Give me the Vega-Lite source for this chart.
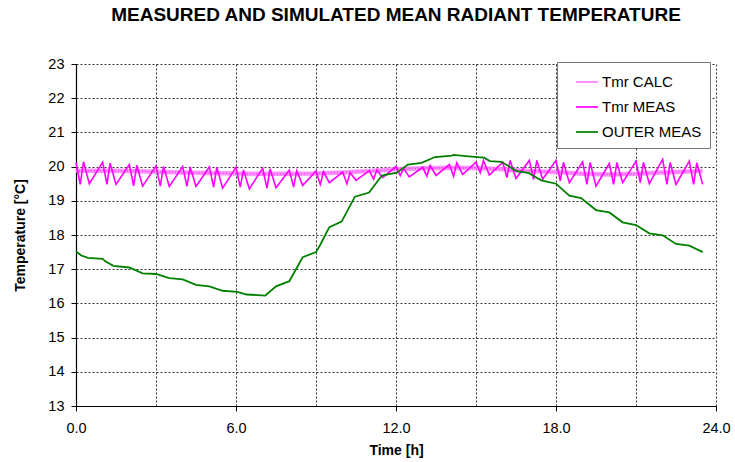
{
  "$schema": "https://vega.github.io/schema/vega-lite/v6.json",
  "autosize": "none",
  "width": 640,
  "height": 342,
  "padding": {"left": 76, "top": 64, "right": 19, "bottom": 56},
  "background": "white",
  "config": {"view": {"stroke": null}, "font": "Liberation Sans"},
  "title": {"text": "MEASURED AND SIMULATED MEAN RADIANT TEMPERATURE", "fontSize": 19, "fontWeight": "bold", "font": "Liberation Sans", "anchor": "middle", "offset": 31, "color": "black"},
  "datasets": {
    "calc": [
      {"time": 0, "temp": 19.88}, {"time": 1, "temp": 19.88}, {"time": 2, "temp": 19.87}, {"time": 3, "temp": 19.85},
      {"time": 4, "temp": 19.83}, {"time": 5, "temp": 19.81}, {"time": 6, "temp": 19.8}, {"time": 7, "temp": 19.79},
      {"time": 8, "temp": 19.79}, {"time": 9, "temp": 19.8}, {"time": 10, "temp": 19.83}, {"time": 11, "temp": 19.87},
      {"time": 12, "temp": 19.92}, {"time": 13, "temp": 19.95}, {"time": 14, "temp": 19.97}, {"time": 15, "temp": 19.96},
      {"time": 16, "temp": 19.92}, {"time": 17, "temp": 19.87}, {"time": 18, "temp": 19.84}, {"time": 19, "temp": 19.79},
      {"time": 20, "temp": 19.77}, {"time": 21, "temp": 19.79}, {"time": 22, "temp": 19.83}, {"time": 23, "temp": 19.86},
      {"time": 23.5, "temp": 19.87}
    ],
    "meas": [
      {"time": 0, "temp": 20.12}, {"time": 0.16, "temp": 19.48}, {"time": 0.28, "temp": 20.14}, {"time": 0.5, "temp": 19.5},
      {"time": 1, "temp": 20.13}, {"time": 1.16, "temp": 19.48}, {"time": 1.28, "temp": 20.1}, {"time": 1.5, "temp": 19.48},
      {"time": 2, "temp": 20.06}, {"time": 2.16, "temp": 19.44}, {"time": 2.28, "temp": 20.04}, {"time": 2.5, "temp": 19.43},
      {"time": 3, "temp": 20.02}, {"time": 3.16, "temp": 19.43}, {"time": 3.28, "temp": 20.0}, {"time": 3.5, "temp": 19.42},
      {"time": 4, "temp": 20.0}, {"time": 4.16, "temp": 19.42}, {"time": 4.28, "temp": 19.99}, {"time": 4.5, "temp": 19.42},
      {"time": 5, "temp": 19.99}, {"time": 5.16, "temp": 19.4}, {"time": 5.28, "temp": 19.98}, {"time": 5.5, "temp": 19.37},
      {"time": 6, "temp": 19.98}, {"time": 6.16, "temp": 19.4}, {"time": 6.28, "temp": 19.9}, {"time": 6.5, "temp": 19.35},
      {"time": 7, "temp": 19.95}, {"time": 7.16, "temp": 19.37}, {"time": 7.28, "temp": 19.93}, {"time": 7.5, "temp": 19.38},
      {"time": 8, "temp": 19.9}, {"time": 8.16, "temp": 19.4}, {"time": 8.28, "temp": 19.88}, {"time": 8.5, "temp": 19.45},
      {"time": 9, "temp": 19.87}, {"time": 9.16, "temp": 19.48}, {"time": 9.28, "temp": 19.85}, {"time": 9.5, "temp": 19.53},
      {"time": 10, "temp": 19.84}, {"time": 10.16, "temp": 19.5}, {"time": 10.28, "temp": 19.82}, {"time": 10.5, "temp": 19.6},
      {"time": 11, "temp": 19.88}, {"time": 11.16, "temp": 19.63}, {"time": 11.28, "temp": 19.9}, {"time": 11.5, "temp": 19.68},
      {"time": 12, "temp": 20.0}, {"time": 12.16, "temp": 19.74}, {"time": 12.28, "temp": 19.95}, {"time": 12.5, "temp": 19.7},
      {"time": 13, "temp": 19.98}, {"time": 13.16, "temp": 19.72}, {"time": 13.28, "temp": 20.03}, {"time": 13.5, "temp": 19.74},
      {"time": 14, "temp": 20.06}, {"time": 14.16, "temp": 19.72}, {"time": 14.28, "temp": 20.11}, {"time": 14.5, "temp": 19.77},
      {"time": 15, "temp": 20.13}, {"time": 15.16, "temp": 19.82}, {"time": 15.28, "temp": 20.18}, {"time": 15.5, "temp": 19.75},
      {"time": 16, "temp": 20.13}, {"time": 16.16, "temp": 19.68}, {"time": 16.28, "temp": 20.18}, {"time": 16.5, "temp": 19.65},
      {"time": 17, "temp": 20.18}, {"time": 17.16, "temp": 19.63}, {"time": 17.28, "temp": 20.18}, {"time": 17.5, "temp": 19.63},
      {"time": 18, "temp": 20.18}, {"time": 18.16, "temp": 19.58}, {"time": 18.28, "temp": 20.12}, {"time": 18.5, "temp": 19.53},
      {"time": 19, "temp": 20.14}, {"time": 19.16, "temp": 19.48}, {"time": 19.28, "temp": 20.12}, {"time": 19.5, "temp": 19.43},
      {"time": 20, "temp": 20.09}, {"time": 20.16, "temp": 19.48}, {"time": 20.28, "temp": 20.12}, {"time": 20.5, "temp": 19.53},
      {"time": 21, "temp": 20.16}, {"time": 21.16, "temp": 19.53}, {"time": 21.28, "temp": 20.12}, {"time": 21.5, "temp": 19.5},
      {"time": 22, "temp": 20.21}, {"time": 22.16, "temp": 19.48}, {"time": 22.28, "temp": 20.12}, {"time": 22.5, "temp": 19.48},
      {"time": 23, "temp": 20.16}, {"time": 23.16, "temp": 19.48}, {"time": 23.28, "temp": 20.11}, {"time": 23.5, "temp": 19.48}
    ],
    "outer": [
      {"time": 0, "temp": 17.52}, {"time": 0.2, "temp": 17.4}, {"time": 0.45, "temp": 17.33}, {"time": 1.0, "temp": 17.3},
      {"time": 1.1, "temp": 17.23}, {"time": 1.4, "temp": 17.1}, {"time": 2.0, "temp": 17.05}, {"time": 2.5, "temp": 16.88},
      {"time": 3.0, "temp": 16.86}, {"time": 3.5, "temp": 16.74}, {"time": 4.0, "temp": 16.7}, {"time": 4.5, "temp": 16.54},
      {"time": 5.0, "temp": 16.5}, {"time": 5.5, "temp": 16.37}, {"time": 6.05, "temp": 16.34}, {"time": 6.4, "temp": 16.26},
      {"time": 7.1, "temp": 16.23}, {"time": 7.5, "temp": 16.5}, {"time": 8.0, "temp": 16.65}, {"time": 8.5, "temp": 17.35},
      {"time": 9.0, "temp": 17.5}, {"time": 9.15, "temp": 17.7}, {"time": 9.5, "temp": 18.23}, {"time": 9.96, "temp": 18.39},
      {"time": 10.46, "temp": 19.12}, {"time": 10.99, "temp": 19.24}, {"time": 11.47, "temp": 19.74}, {"time": 12.03, "temp": 19.82},
      {"time": 12.45, "temp": 20.06}, {"time": 12.96, "temp": 20.11}, {"time": 13.46, "temp": 20.28}, {"time": 14.1, "temp": 20.32},
      {"time": 14.14, "temp": 20.34}, {"time": 15.04, "temp": 20.28}, {"time": 15.3, "temp": 20.26}, {"time": 15.52, "temp": 20.16},
      {"time": 15.96, "temp": 20.14}, {"time": 16.52, "temp": 19.87}, {"time": 16.95, "temp": 19.82}, {"time": 17.45, "temp": 19.6},
      {"time": 18.0, "temp": 19.5}, {"time": 18.5, "temp": 19.15}, {"time": 18.94, "temp": 19.08}, {"time": 19.5, "temp": 18.73},
      {"time": 20.0, "temp": 18.66}, {"time": 20.5, "temp": 18.37}, {"time": 21.0, "temp": 18.29}, {"time": 21.5, "temp": 18.05},
      {"time": 22.0, "temp": 17.99}, {"time": 22.5, "temp": 17.74}, {"time": 23.0, "temp": 17.69}, {"time": 23.5, "temp": 17.5}
    ]
  },
  "encoding": {
    "x": {
      "field": "time", "type": "quantitative",
      "scale": {"domain": [0, 24], "nice": false, "zero": false},
      "axis": {
        "values": [0, 3, 6, 9, 12, 15, 18, 21, 24],
        "labelExpr": "datum.value % 6 === 0 ? format(datum.value, '.1f') : ''",
        "labelFlush": false,
        "grid": true, "gridDash": [2, 2], "gridColor": "#333", "gridWidth": 1,
        "domainColor": "black", "domainWidth": 1.2,
        "tickColor": "black", "tickSize": 5,
        "tickOpacity": {"condition": {"test": "datum.value % 6 === 0", "value": 1}, "value": 0},
        "labelFontSize": 14.5, "labelColor": "black", "labelPadding": 10, "labelFont": "Liberation Sans",
        "title": "Time [h]", "titleFontSize": 14, "titleFontWeight": "bold", "titleColor": "black", "titlePadding": 9, "titleFont": "Liberation Sans"
      }
    },
    "y": {
      "field": "temp", "type": "quantitative",
      "scale": {"domain": [13, 23], "nice": false, "zero": false},
      "axis": {
        "values": [13, 14, 15, 16, 17, 18, 19, 20, 21, 22, 23],
        "labelFlush": false,
        "grid": true, "gridDash": [2, 2], "gridColor": "#333", "gridWidth": 1,
        "domainColor": "black", "domainWidth": 1.2,
        "tickColor": "black", "tickSize": 5,
        "labelFontSize": 14.5, "labelColor": "black", "labelPadding": 7, "labelFont": "Liberation Sans",
        "title": "Temperature [°C]", "titleFontSize": 14, "titleFontWeight": "bold", "titleColor": "black", "titlePadding": 20, "titleFont": "Liberation Sans"
      }
    }
  },
  "layer": [
    {
      "data": {"name": "calc"},
      "transform": [{"calculate": "'Tmr CALC'", "as": "series"}],
      "mark": {"type": "line", "strokeWidth": 4.5, "opacity": 0.85},
      "encoding": {
        "color": {
          "field": "series", "type": "nominal",
          "scale": {"domain": ["Tmr CALC", "Tmr MEAS", "OUTER MEAS"], "range": ["#ff80ff", "#ff00ff", "#008000"]},
          "legend": {
            "title": null, "orient": "none", "legendX": 481, "legendY": -2,
            "strokeColor": "#777", "fillColor": "white", "padding": 8,
            "symbolType": "stroke", "symbolSize": 484, "symbolStrokeWidth": 2,
            "symbolOffset": 10, "labelOffset": 3, "rowPadding": 5,
            "labelExpr": "datum.label + '    '",
            "labelFontSize": 15, "labelColor": "black", "labelFont": "Liberation Sans"
          }
        }
      }
    },
    {
      "data": {"name": "calc"},
      "mark": {"type": "line", "strokeWidth": 1.2, "color": "#ff33ff", "strokeDash": [1, 2]},
      "encoding": {}
    },
    {
      "data": {"name": "meas"},
      "transform": [{"calculate": "'Tmr MEAS'", "as": "series"}],
      "mark": {"type": "line", "strokeWidth": 1.6},
      "encoding": {"color": {"field": "series", "type": "nominal"}}
    },
    {
      "data": {"name": "outer"},
      "transform": [{"calculate": "'OUTER MEAS'", "as": "series"}],
      "mark": {"type": "line", "strokeWidth": 1.8},
      "encoding": {"color": {"field": "series", "type": "nominal"}}
    }
  ]
}
